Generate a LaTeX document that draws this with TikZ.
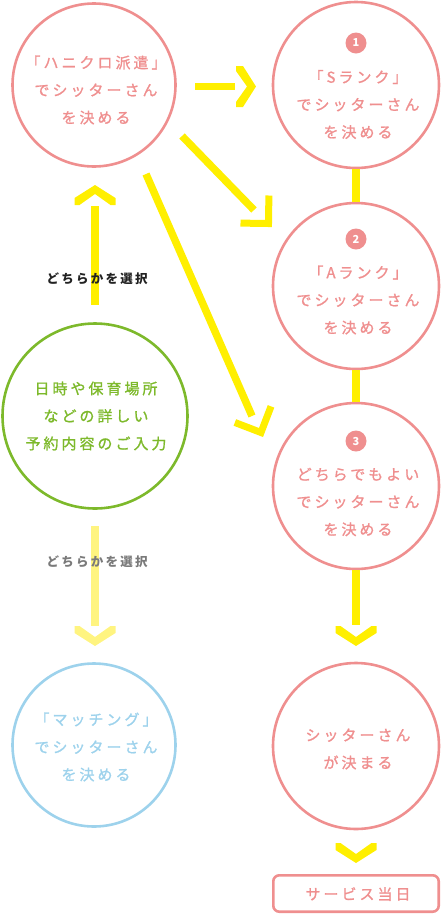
\documentclass[tikz,border=0pt]{standalone}
\usepackage{fontspec}
\setmainfont{Noto Sans CJK JP}
\newfontfamily\jp[LetterSpace=20, FakeBold=1.2]{Noto Sans CJK JP}
\newfontfamily\jplab[LetterSpace=18]{Noto Sans CJK JP}
\definecolor{pk}{HTML}{EF8F8F}
\definecolor{gr}{HTML}{7DB92B}
\definecolor{bl}{HTML}{9DD2EC}
\definecolor{ye}{HTML}{FFEF00}
\definecolor{lye}{HTML}{FFF480}
\definecolor{lbk}{HTML}{222222}
\definecolor{lgy}{HTML}{7A7A7A}
\begin{document}
\begin{tikzpicture}[x=1pt,y=-1pt,
  ring/.style={circle, draw=#1, line width=2.6pt, inner sep=0pt},
  rtext/.style={text=#1, align=center, inner sep=0pt, font=\jp\fontsize{15}{27.5}\selectfont},
  badge/.style={circle, fill=pk, minimum size=21pt, inner sep=0pt, text=white, font=\bfseries\fontsize{11}{11}\selectfont},
  lab/.style={text=#1, inner sep=0pt, font=\jplab\bfseries\fontsize{12.5}{12.5}\selectfont},
  yline/.style={draw=ye, line width=7.5pt},
  lyline/.style={draw=lye, line width=7.5pt},
  chev/.pic={\fill (0,0) -- (-13,20.5) -- (-20,20.5) -- (-20,15.5) -- (-9,0) -- (-20,-15.5) -- (-20,-20.5) -- (-13,-20.5) -- cycle;},
  lchev/.pic={\draw[line width=7pt, miter limit=10] (-19.8,19.8) -- (0,0) -- (-19.8,-19.8);}
]
\useasboundingbox (0,0) rectangle (441,914);
% circles
\node[ring=pk, minimum size=163pt] (cA) at (94,85) {};
\node[ring=pk, minimum size=166pt] (c1) at (356,85) {};
\node[ring=pk, minimum size=166pt] (c2) at (356,286) {};
\node[ring=pk, minimum size=166pt] (c3) at (356,486) {};
\node[ring=gr, minimum size=185pt] (cG) at (95,416) {};
\node[ring=bl, minimum size=163pt] (cB) at (94,745) {};
\node[ring=pk, minimum size=166pt] (cF) at (356,746) {};
\node[draw=pk, line width=2.6pt, rounded corners=6pt, minimum width=165.4pt, minimum height=36.4pt, inner sep=0pt] (day) at (356,893.5) {};
% connector coordinates
\coordinate (hA) at (195,86.5);
\coordinate (hB) at (235,86.5);
\coordinate (hT) at (256,86.5);
\coordinate (a1) at (182,136);
\coordinate (a2) at (254,210);
\coordinate (aT) at (268.5,223.5);
\coordinate (b1) at (146,174);
\coordinate (b2) at (252,416);
\coordinate (bT) at (261,432.5);
\coordinate (d3) at (356,625);
\coordinate (d3T) at (356,646);
\coordinate (dFT) at (356,863);
\coordinate (g1) at (95,305);
\coordinate (g2) at (95,206);
\coordinate (gT) at (95,185);
\coordinate (g3) at (95,526);
\coordinate (g4) at (95,626);
\coordinate (g4T) at (95,646);
% connectors
\draw[yline] (hA) -- (hB);
\pic[ye] at (hT) {chev};
\draw[yline] (c1.south) -- (c2.north);
\draw[yline] (c2.south) -- (c3.north);
\draw[yline] (c3.south) -- (d3);
\pic[ye, rotate=-90] at (d3T) {chev};
\pic[ye, rotate=-90] at (dFT) {chev};
\draw[yline] (a1) -- (a2);
\pic[ye, rotate=-45.8] at (aT) {lchev};
\draw[yline] (b1) -- (b2);
\pic[ye, rotate=-66] at (bT) {lchev};
\draw[yline] (g1) -- (g2);
\pic[ye, rotate=90] at (gT) {chev};
\draw[lyline] (g3) -- (g4);
\pic[lye, rotate=-90] at (g4T) {chev};
% labels
\node[lab=lbk] (l1) at (97,279) {どちらかを選択};
\node[lab=lgy] (l2) at (97,562) {どちらかを選択};
% badges
\node[badge] (n1) at (356,43) {1};
\node[badge] (n2) at (356,239) {2};
\node[badge] (n3) at (356,441) {3};
% texts
\node[rtext=pk] (tA) at (96,90) {「ハニクロ派遣」\\でシッターさん\\を決める};
\node[rtext=pk] (t1) at (358,104.5) {「Sランク」\\でシッターさん\\を決める};
\node[rtext=pk] (t2) at (358,300) {「Aランク」\\でシッターさん\\を決める};
\node[rtext=pk] (t3) at (358,502) {どちらでもよい\\でシッターさん\\を決める};
\node[rtext=gr] (tG) at (96,416) {日時や保育場所\\などの詳しい\\予約内容のご入力};
\node[rtext=bl] (tB) at (96,747) {「マッチング」\\でシッターさん\\を決める};
\node[rtext=pk] (tF) at (358,749) {シッターさん\\が決まる};
\node[rtext=pk] (tD) at (358,894) {サービス当日};
\end{tikzpicture}
\end{document}
